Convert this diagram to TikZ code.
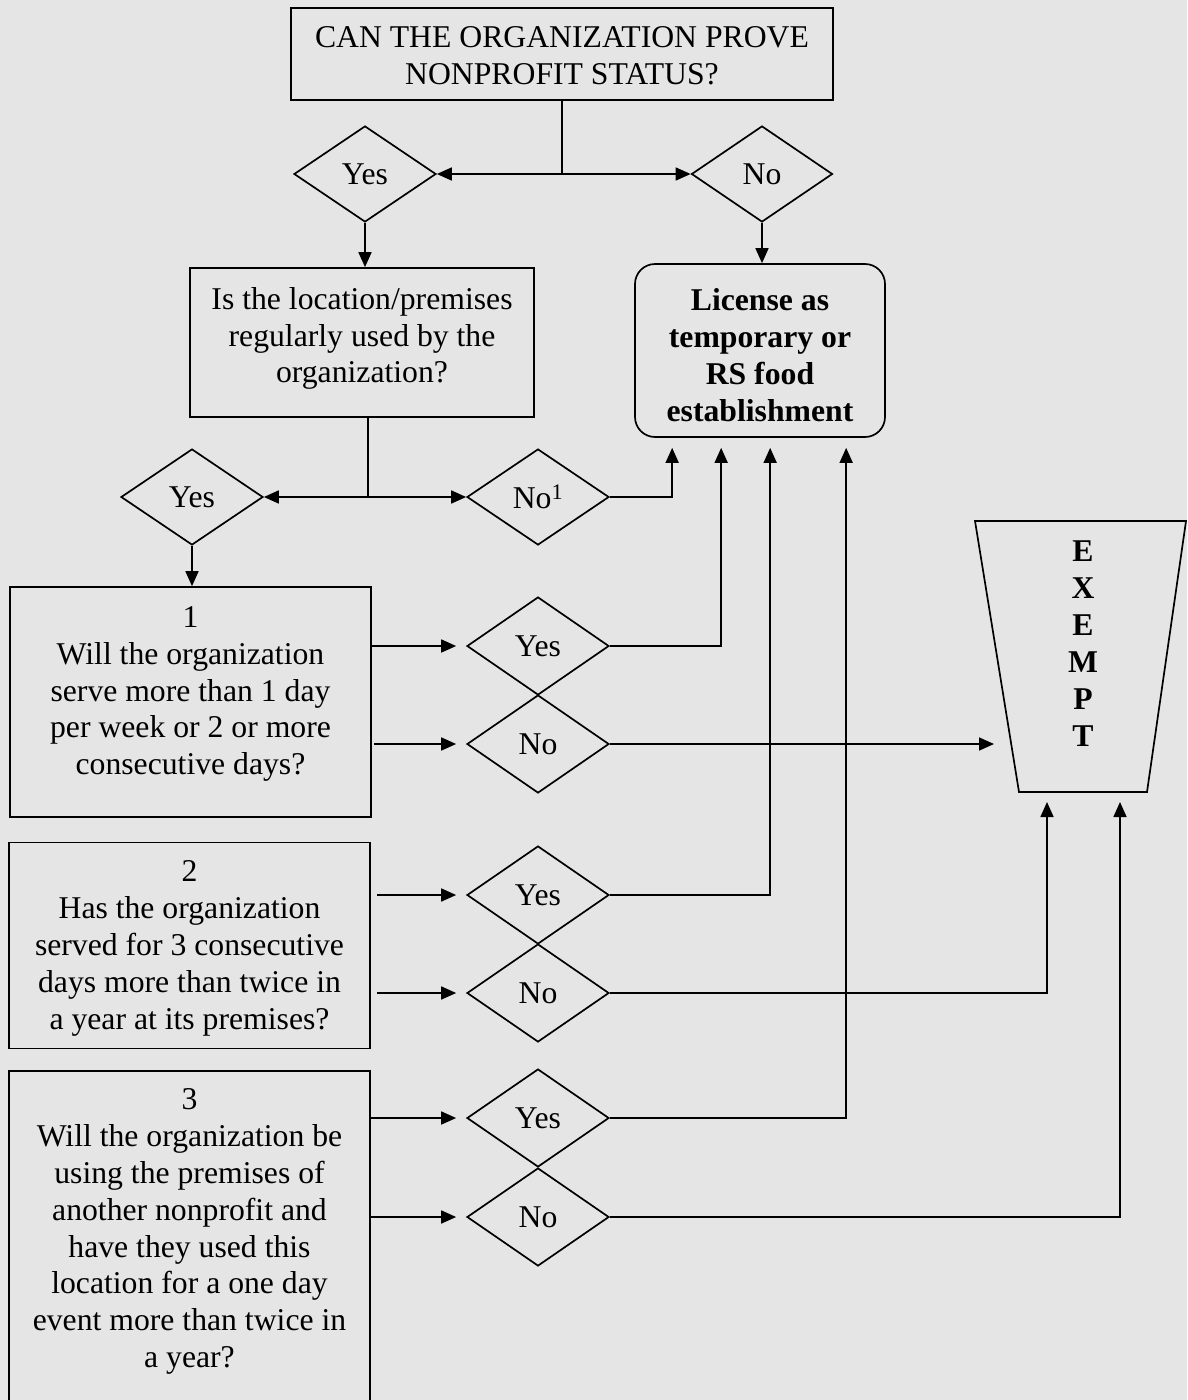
\documentclass[tikz,border=0pt]{standalone}
\usepackage{fontspec}
\setmainfont{Liberation Serif}
\usetikzlibrary{shapes.geometric,arrows.meta,calc}
\definecolor{bgcol}{RGB}{229,229,229}
\begin{document}
\begin{tikzpicture}[x=1pt,y=-1pt,
  every node/.style={font=\fontsize{31.7}{36.9}\selectfont, inner sep=0pt, align=center},
  box/.style={draw, rectangle, line width=1.7pt},
  dia/.style={draw, diamond, line width=1.7pt, minimum width=142pt, minimum height=96pt},
  dia2/.style={dia, minimum height=98pt},
  conn/.style={line width=1.7pt},
  arr/.style={conn, -{Triangle[length=15pt,width=13pt]}},
  gap/.style={shorten >=10pt},
  boldtxt/.style={font=\bfseries\fontsize{31.7}{36.9}\selectfont},
]
\fill[bgcol] (0,0) rectangle (1187,1400);
\useasboundingbox (0,0) rectangle (1187,1400);
\clip (0,0) rectangle (1187,1400);

% nodes
\node[box, minimum width=542pt, minimum height=92pt] (top) at (562,54) {};
\node (topt) at (562,56) {CAN THE ORGANIZATION PROVE\\NONPROFIT STATUS?};
\node[dia] (y1) at (365,174) {Yes};
\node[dia, minimum width=141pt] (n1) at (762,174) {No};
\node[box, minimum width=344pt, minimum height=149pt] (q0) at (362,342.5) {};
\node (q0t) at (362,338.5) {Is the location/premises\\regularly used by the\\organization?};
\node[box, rounded corners=20pt, minimum width=250pt, minimum height=173pt] (lic) at (760,350.5) {};
\node[boldtxt] (lict) at (760,355.5) {License as\\temporary or\\RS food\\establishment};
\node[dia] (y2) at (192,497) {Yes};
\node[dia] (n2) at (538,497) {No\textsuperscript{1}};

\node[box, minimum width=361pt, minimum height=230pt] (q1) at (190.5,702) {};
\node (q1t) at (190.5,694) {1\\Will the organization\\serve more than 1 day\\per week or 2 or more\\consecutive days?};
\node[dia2] (y3) at (538,646) {Yes};
\node[dia2] (n3) at (538,744) {No};

\node[box, minimum width=361pt, minimum height=206pt] (q2) at (189.5,945.5) {};
\node (q2t) at (189.5,948.5) {2\\Has the organization\\served for 3 consecutive\\days more than twice in\\a year at its premises?};
\node[dia2] (y4) at (538,895) {Yes};
\node[dia2] (n4) at (538,993) {No};

\node[box, anchor=north, minimum width=361pt, minimum height=345pt] (q3) at (189.5,1070) {};
\node (q3t) at (189.5,1231.5) {3\\Will the organization be\\using the premises of\\another nonprofit and\\have they used this\\location for a one day\\event more than twice in\\a year?};
\node[dia2] (y5) at (538,1118) {Yes};
\node[dia2] (n5) at (538,1217) {No};

% EXEMPT trapezoid
\coordinate (eTL) at (975,521);
\coordinate (eTR) at (1186,521);
\coordinate (eBR) at (1147,792);
\coordinate (eBL) at (1019,792);
\draw[conn] (eTL) -- (eTR) -- (eBR) -- (eBL) -- cycle;
\node[font=\bfseries\fontsize{31.7}{37}\selectfont] (ex) at (1083,643.5) {E\\X\\E\\M\\P\\T};
\coordinate (eB1) at (1047,792);
\coordinate (eB2) at (1120,792);
\coordinate (eIn) at (994,744);

% license entry points
\coordinate (lA) at ($(lic.south west)+(38,0)$);
\coordinate (lB) at ($(lic.south west)+(87,0)$);
\coordinate (lC) at ($(lic.south west)+(136,0)$);
\coordinate (lD) at ($(lic.south west)+(212,0)$);

% connectors
\draw[conn] (top.south) -- (top.south |- y1.east) coordinate (j1);
\draw[arr] (j1) -- (y1.east);
\draw[arr] (j1) -- (n1.west);
\draw[arr] (y1.south) -- (y1.south |- q0.north);
\draw[arr] (n1.south) -- (n1.south |- lic.north);

\coordinate (j2t) at ($(q0.south)+(6,0)$);
\draw[conn] (j2t) -- (j2t |- y2.east) coordinate (j2);
\draw[arr] (j2) -- (y2.east);
\draw[arr] (j2) -- (n2.west);
\draw[arr] (y2.south) -- (y2.south |- q1.north);

\draw[arr, gap] (n2.east) -| (lA);
\draw[arr, gap] (y3.east) -| (lB);
\draw[arr, gap] (y4.east) -| (lC);
\draw[arr, gap] (y5.east) -| (lD);

\draw[arr] (n3.east) -- (eIn);
\draw[arr, gap] (n4.east) -| (eB1);
\draw[arr, gap] (n5.east) -| (eB2);

\draw[arr, gap] (q1.east |- y3.west) -- (y3.west);
\draw[arr, gap, shorten <=2pt] (q1.east |- n3.west) -- (n3.west);
\draw[arr, gap, shorten <=6pt] (q2.east |- y4.west) -- (y4.west);
\draw[arr, gap, shorten <=6pt] (q2.east |- n4.west) -- (n4.west);
\draw[arr, gap] (q3.east |- y5.west) -- (y5.west);
\draw[arr, gap] (q3.east |- n5.west) -- (n5.west);
\end{tikzpicture}
\end{document}
